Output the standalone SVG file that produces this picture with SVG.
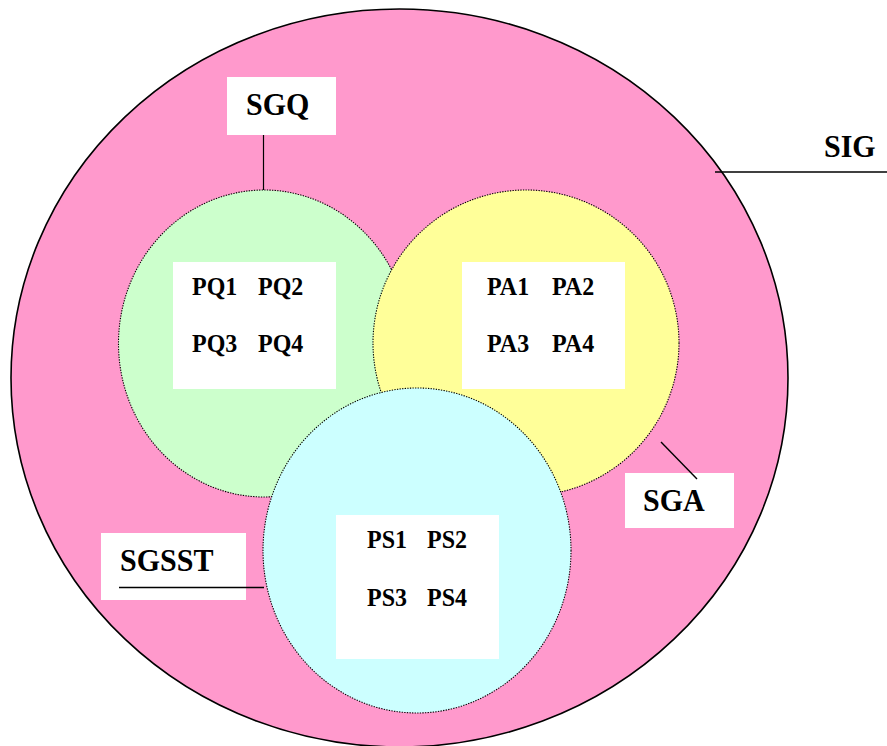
<svg xmlns="http://www.w3.org/2000/svg" width="887" height="746" viewBox="0 0 887 746">
  <style>
    .set { stroke: #000; stroke-width: 1.1; stroke-dasharray: 1.3 1.3; }
    .box { fill: #ffffff; stroke: none; }
    .lbl { font-family: "Liberation Serif", "Times New Roman", serif; font-weight: bold; fill: #000; }
    .big { font-size: 30px; }
    .item { font-size: 24px; }
    .link { stroke: #000; fill: none; }
  </style>
  <rect width="887" height="746" fill="#ffffff"/>

  <!-- outer set -->
  <g id="SIG">
    <ellipse cx="399.5" cy="378" rx="388.5" ry="369" fill="#ff99cc" stroke="#000" stroke-width="1.6"/>
  </g>

  <!-- quality subgroup -->
  <g id="SGQ-set">
    <ellipse class="set" cx="264" cy="343.5" rx="145.5" ry="153.5" fill="#ccffcc"/>
  </g>

  <!-- environment subgroup -->
  <g id="SGA-set">
    <ellipse class="set" cx="526" cy="343" rx="153" ry="153" fill="#ffff99"/>
  </g>

  <!-- health and safety subgroup -->
  <g id="SGSST-set">
    <ellipse class="set" cx="417" cy="550.5" rx="154" ry="162.5" fill="#ccffff"/>
  </g>

  <!-- process boxes -->
  <g id="PQ">
    <rect class="box" x="173" y="262" width="163" height="127"/>
    <text class="lbl item" transform="translate(192 295) scale(1 1.08)">PQ1</text>
    <text class="lbl item" transform="translate(258 295) scale(1 1.08)">PQ2</text>
    <text class="lbl item" transform="translate(192 352) scale(1 1.08)">PQ3</text>
    <text class="lbl item" transform="translate(258 352) scale(1 1.08)">PQ4</text>
  </g>
  <g id="PA">
    <rect class="box" x="462" y="262" width="163" height="127"/>
    <text class="lbl item" transform="translate(487 295) scale(1 1.08)">PA1</text>
    <text class="lbl item" transform="translate(552 295) scale(1 1.08)">PA2</text>
    <text class="lbl item" transform="translate(487 352) scale(1 1.08)">PA3</text>
    <text class="lbl item" transform="translate(552 352) scale(1 1.08)">PA4</text>
  </g>
  <g id="PS">
    <rect class="box" x="336" y="515" width="163" height="144"/>
    <text class="lbl item" transform="translate(367 548) scale(1 1.08)">PS1</text>
    <text class="lbl item" transform="translate(427 548) scale(1 1.08)">PS2</text>
    <text class="lbl item" transform="translate(367 606) scale(1 1.08)">PS3</text>
    <text class="lbl item" transform="translate(427 606) scale(1 1.08)">PS4</text>
  </g>

  <!-- group labels -->
  <g id="SGQ">
    <rect class="box" x="227" y="77" width="109" height="58"/>
    <text class="lbl big" transform="translate(246 115) scale(1 1.08)">SGQ</text>
  </g>
  <g id="SGA">
    <rect class="box" x="625" y="473" width="109" height="55"/>
    <text class="lbl big" transform="translate(643 511) scale(1 1.08)">SGA</text>
  </g>
  <g id="SGSST">
    <rect class="box" x="101" y="533" width="145" height="67"/>
    <text class="lbl big" transform="translate(120 571) scale(1 1.08)">SGSST</text>
  </g>
  <g id="SIG-label">
    <text class="lbl big" transform="translate(824 157) scale(1 1.08)">SIG</text>
  </g>

  <!-- leader lines -->
  <g id="connectors">
    <line class="link" x1="263.5" y1="135" x2="263.5" y2="190" stroke-width="1.2"/>
    <line class="link" x1="715" y1="172" x2="887" y2="172" stroke-width="1.6"/>
    <line class="link" x1="661" y1="442" x2="697" y2="479" stroke-width="1.4"/>
    <line class="link" x1="119" y1="587.5" x2="264" y2="587.5" stroke-width="1.6"/>
  </g>
</svg>
